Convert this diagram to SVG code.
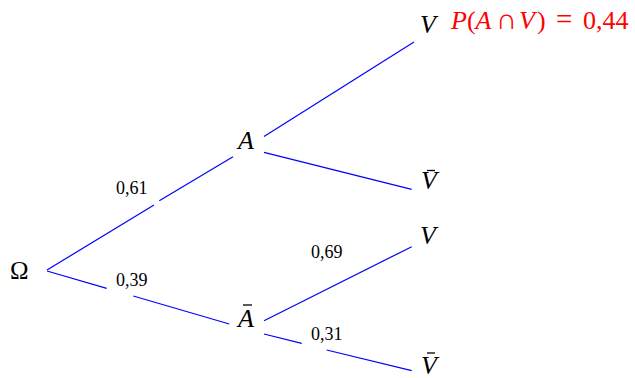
<svg xmlns="http://www.w3.org/2000/svg" width="635" height="378" viewBox="0 0 635 378">
<style>
.e{stroke:#0000ff;stroke-width:1.2;fill:none}
.b{stroke:#000;stroke-width:1.3}
.l{font-family:'Liberation Serif',serif;font-size:26px;font-style:italic;fill:#000}
.n{font-family:'Liberation Serif',serif;font-size:18px;fill:#000}
.r{font-family:'Liberation Serif',serif;font-size:26px;fill:#ff0000}
</style>
<rect width="635" height="378" fill="#fff"/>
<g id="connectors">
<path class="e" d="M47,270 L154,205 M159.3,200.7 L233,156.7"/>
<path class="e" d="M47,271 L106.7,288.3 M133.3,296 L229.3,324"/>
<path class="e" d="M264,136.5 L414,42"/>
<path class="e" d="M264,152.3 L411.7,189.3"/>
<path class="e" d="M264,320.7 L411.7,246.7"/>
<path class="e" d="M264,334 L301.7,343.3 M326.7,350 L411.7,370.7"/>
</g>
<g id="omega"><text class="l" font-family="Liberation Serif" style="font-style:normal;font-size:25px" x="10" y="279">Ω</text></g>
<g id="A"><text class="l" font-family="Liberation Serif" x="238" y="149">A</text></g>
<g id="Abar"><text class="l" font-family="Liberation Serif" x="238" y="326.5">A</text><line class="b" x1="243" y1="305" x2="252" y2="305"/></g>
<g id="V1"><text class="l" font-family="Liberation Serif" x="420" y="32.5">V</text></g>
<g id="Vbar1"><text class="l" font-family="Liberation Serif" x="421" y="188.5">V</text><line class="b" x1="427" y1="170.5" x2="435" y2="170.5"/></g>
<g id="V2"><text class="l" font-family="Liberation Serif" x="420" y="243.5">V</text></g>
<g id="Vbar2"><text class="l" font-family="Liberation Serif" x="421" y="373.5">V</text><line class="b" x1="427" y1="353" x2="435" y2="353"/></g>
<g id="labels">
<text class="n" font-family="Liberation Serif" x="116" y="194">0,61</text>
<text class="n" font-family="Liberation Serif" x="116" y="286">0,39</text>
<text class="n" font-family="Liberation Serif" x="311" y="258">0,69</text>
<text class="n" font-family="Liberation Serif" x="311" y="340">0,31</text>
</g>
<g id="result"><text class="r" font-family="Liberation Serif" y="29"><tspan x="451" font-style="italic">P</tspan><tspan x="467">(</tspan><tspan x="475.5" font-style="italic">A</tspan><tspan x="496" font-size="29px">∩</tspan><tspan x="519" font-style="italic">V</tspan><tspan x="537">)</tspan><tspan x="556" font-size="29px">=</tspan><tspan x="583">0,44</tspan></text></g>
</svg>
